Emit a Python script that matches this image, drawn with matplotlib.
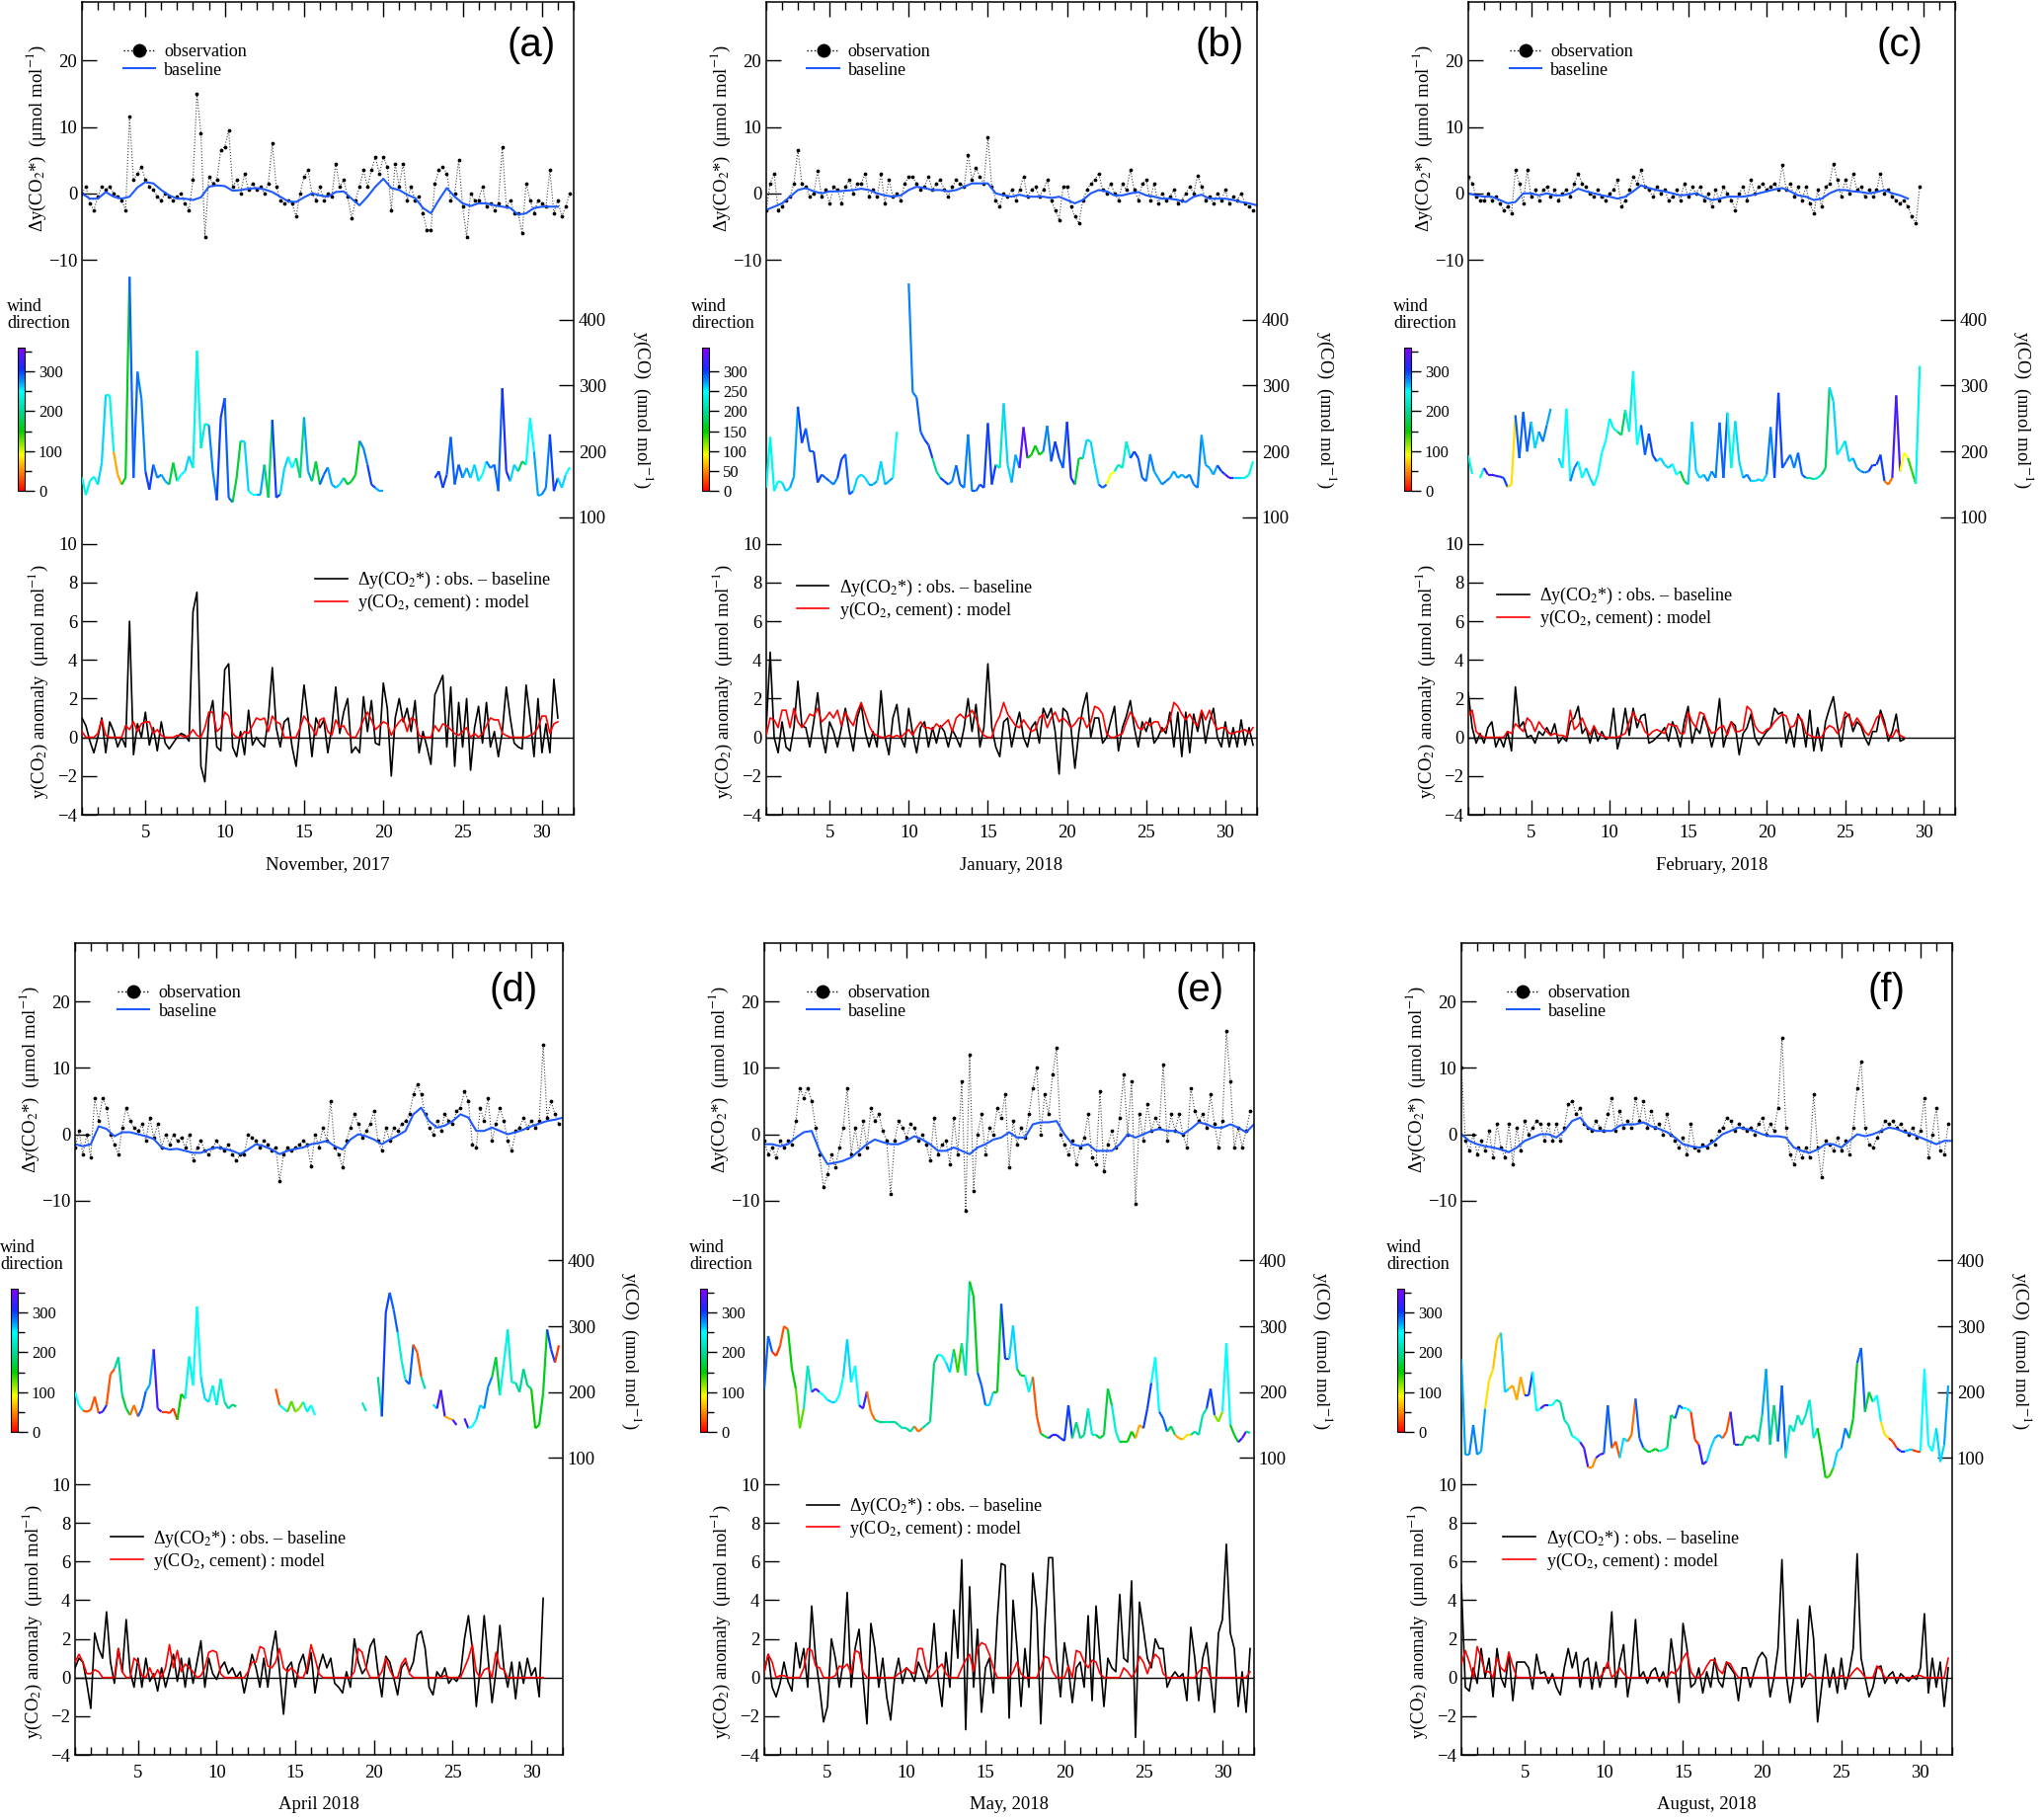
import numpy as np
import matplotlib
matplotlib.use('Agg')
import matplotlib.pyplot as plt
from matplotlib.collections import LineCollection
from matplotlib.colors import LinearSegmentedColormap, Normalize
from matplotlib.cm import ScalarMappable
from matplotlib.lines import Line2D
from matplotlib.ticker import MultipleLocator
from matplotlib.transforms import blended_transform_factory

plt.rcParams['font.family'] = ['Liberation Serif', 'DejaVu Serif']
plt.rcParams['mathtext.fontset'] = 'stix'
plt.rcParams['axes.linewidth'] = 1.1

nan = float('nan')

# ---------------- data (6-hourly unless noted; baseline and wind 12-hourly) ----------------
# (a) November 2017
obs_a = [0, 1, -1.5, -2.5, -0.5, 1, 0.5, 1, 0, -0.5, -1, -2.5, 11.5, 2, 3, 4,
         2, 1, 0.5, -0.5, -1, 0, -0.5, -1, -0.5, 0, -1.5, -2.5, 2, 15, 9, -6.5,
         2.5, 1.5, 2, 6.5, 7, 9.5, 1, 2, 0, 3, 0.5, 1.5, 0.5, 1, 0, 1.5,
         7.5, 1, -1, -1.5, -1, -1.5, -3.5, 0, 2.5, 3.5, 0, -1, 1, -1, 0, -0.5,
         4.5, 1, 2, -0.5, -3.8, -1, 1, 3.5, 1, 3.5, 5.5, 3, 5.5, 4, -2.5, 4.5,
         1, 4.5, -1, 1, -1, -0.5, -3, -5.5, -5.5, 1.5, 3.5, 4, 3, -1, 0, 5,
         -2, -6.5, 0, -1, -1, 1, -2, -1.5, -2.5, -1.5, 7, -2, -1, -3, -3, -6,
         1.5, -1, -3, -1, -1.5, -2, 3.5, -3, -1, -3.5, -2, 0]
base_a = [0, -0.8, -0.8, 0.2, -0.5, -0.8, -0.5, 0.9, 1.7, 1.5,
          0.5, -0.3, -0.8, -0.8, -1.0, -0.6, 1.0, 1.2, 1.1, 0.4,
          0.5, 0.7, 0.8, 0.6, 0.2, -0.5, -1.2, -1.3, -0.6, 0,
          -0.3, -0.5, 0.2, 0.3, -0.8, -1.8, -0.5, 1.0, 2.2, 0.8,
          0.5, -0.2, -0.7, -2.2, -3.0, -1.0, 0.8, -0.5, -1.5, -1.9,
          -1.5, -1.5, -1.8, -2.0, -2.2, -3.2, -3.0, -2.2, -2.0, -2.0, -2.0]
co_a = [161, 134, 155, 162, 150, 183, 286, 285, 200, 165, 150, 160, 465, 160, 321, 280,
        170, 142, 180, 160, 165, 155, 150, 183, 155, 165, 170, 193, 175, 353, 205, 242,
        240, 170, 126, 251, 281, 130, 123, 160, 216, 215, 140, 135, 135, 135, 180, 130,
        248, 130, 135, 173, 192, 175, 190, 160, 252, 170, 155, 185, 150, 165, 176, 150,
        145, 150, 160, 150, 155, 165, 216, 205, 180, 150, 145, 140, 140, nan, nan, nan,
        nan, nan, nan, nan, nan, nan, nan, nan, nan, 160, 170, 145, 165, 222, 150, 180,
        160, 175, 160, 180, 155, 165, 185, 175, 180, 140, 296, 170, 155, 180, 170, 185,
        180, 251, 200, 133, 135, 145, 226, 140, 160, 145, 165, 176]
wind_a = [240, 240, 260, 240, 60, 160, 290, 280, 300, 280,
          270, 170, 250, 260, 240, 230, 280, 300, 290, 170,
          260, 250, 270, 180, 300, 260, 250, 190, 270, 170,
          290, 270, 260, 170, 160, 280, 300, 270, 260, nan,
          nan, nan, nan, nan, 300, 300, 290, 290, 270, 260,
          250, 280, 290, 310, 260, 180, 250, 270, 280, 300, 260, 250]
anom_a = [1.0, 0.6, -0.2, -0.8, 0, 1.0, -0.8, 0.8, 0.3, -0.5, 0, -0.5, 6.0, -0.9, 0.7, 0,
          1.3, -0.4, 0.5, -0.7, 0.8, -0.3, -0.6, -0.3, 0, 0.2, 0.1, -0.2, 6.5, 7.5, -1.5, -2.3,
          1.0, 1.9, -0.5, -0.7, 3.5, 3.8, -0.5, -1.0, 0.3, -0.9, 1.4, -0.4, 0, -0.3, -0.5, 1.0,
          3.6, 0.5, -0.5, 0.8, 1.0, -0.5, -1.5, 0.5, 2.7, 1.0, -1.0, 1.0, 0.5, 0.9, -0.8, 0.5,
          2.6, 0.2, 1.3, 2.0, -0.8, -0.5, -0.8, 2.1, 0.3, 1.9, -0.3, -0.4, 2.8, 1.5, -2.0, 1.0,
          2.0, 0.8, 1.5, 0.3, 1.9, -0.8, 0.3, -0.5, -1.4, 2.2, 2.7, 3.2, -0.5, 2.6, -1.5, 1.8,
          -0.5, 2.0, -1.7, 0.5, 1.6, -0.3, 1.8, -0.5, 0.3, -1.0, 0.3, 2.6, 1.0, -0.3, -0.5, -0.6,
          2.7, 1.0, -1.0, 2.0, -0.8, 0.7, -0.8, 3.0, 1.0]
model_a = [0.3, 0, 0, 0, 0.2, 0.9, 0.1, 0, 0, 0, 0, 0.6, 0.4, 0.8, 0.3, 0.7,
           0.8, 0.8, 0.2, 0.4, 0.1, 0, 0, 0, 0.1, 0.1, 0, 0.1, 0.4, 0.1, 0, 0.5,
           1.3, 1.3, 0.3, 0.5, 1.3, 1.1, 0.2, 0, 0, 0.3, 0.2, 0.6, 1.0, 0.9, 1.0, 0.3,
           1.1, 0.8, 0.7, 0, 0, 0, 0, 0.5, 1.1, 0.8, 0.5, 0.1, 0.9, 1.0, 0.3, 0.1,
           0.9, 0.5, 0.6, 0.2, 0, 0, 0.4, 0.9, 1.3, 0.9, 0.4, 0.6, 0.8, 0.7, 0.1, 0.5,
           0.8, 1.0, 0.3, 1.0, 0.9, 0.1, 0, 0, 0, 0.6, 0.3, 0.7, 0.6, 0.4, 0.2, 0.1,
           0.3, 0.5, 0, 0.2, 0, 0.2, 0.6, 1.0, 0.9, 0.9, 0.2, 0.1, 0, 0, 0, 0,
           0, 0.1, 0.2, 0.5, 1.1, 1.1, 0.2, 0.7, 0.8]

# (b) January 2018
obs_b = [-2.5, 1.5, 3, -2.5, -2, -1, -0.5, 1.5, 6.5, 1.5, 1, -0.5, 0, 3.4, -0.5, 0.5,
         -1.5, 1, 0.5, -1.5, 1, 2, 0, 1.5, 1.5, 3, -0.5, 0.5, -0.5, 3, -1.5, 2,
         -0.5, 0, -1, 1.5, 2.5, 2.5, 1.5, 0.5, 1, 2.5, 0.5, 1.5, 2, 0.5, -0.5, 1,
         2, 1.5, 1, 5.8, 2, 3.8, 2.5, 1.5, 8.4, 1, -1, -2, 0, -0.5, 0.5, -1,
         0.5, 2.5, -0.5, 0.5, 1, -0.5, 0.5, 2, -1, -2.5, -4, 1, 1, -2, -3.5, -4.5,
         -1, 0.5, 1.5, 2, 3, 0.5, 0, 1.5, 0, -1, 1.5, 0.5, 3.5, 0.5, -1, 1.5,
         2, -1, 1.5, -1.5, 0, -1, -0.5, 0.5, -1.5, -1, 0, 1, 0, 2.7, 1, -1,
         -0.5, -1.5, 0, -1, 0.5, -1.5, -0.5, -1, 0, -1.5, -2, -2.5]
base_b = [-2.5, -2, -1.5, -0.5, 0.5, 0.8, 0.3, 0, 0.3, 0.3,
          0.4, 0.5, 0.7, 0.5, 0, -0.3, -0.5, -0.3, 0.5, 1.0,
          0.8, 0.5, 0.5, 0.3, 0.5, 1.0, 1.5, 1.5, 1.5, 0,
          -0.3, -0.5, -0.2, -0.5, -0.5, -0.5, -0.7, -0.5, -1.0, -1.5,
          -1.0, 0, 0.5, 0.3, -0.3, -0.3, 0, 0.2, -0.3, -0.5,
          -0.8, -0.8, -1.0, -1.3, -0.5, -0.2, -0.8, -0.8, -0.8, -1.0,
          -1.3, -1.5, -1.8]
co_b = [145, 222, 140, 155, 153, 140, 145, 162, 268, 213, 235, 200, 200, 153, 165, 160,
        155, 150, 160, 188, 196, 135, 140, 160, 165, 160, 150, 150, 155, 185, 150, 155,
        160, 230, nan, nan, 455, 290, 282, 230, 218, 210, 190, 170, 160, 155, 150, 155,
        179, 150, 145, 226, 140, 140, 150, 145, 243, 150, 180, 175, 273, 180, 153, 195,
        175, 237, 190, 195, 209, 195, 200, 239, 185, 215, 190, 175, 245, 160, 150, 190,
        190, 218, 215, 180, 150, 145, 150, 165, 170, 180, 175, 215, 190, 200, 190, 160,
        155, 196, 170, 160, 150, 155, 160, 170, 160, 165, 160, 165, 150, 145, 225, 180,
        175, 165, 179, 170, 165, 160, 160, 160, 160, 160, 165, 185]
wind_b = [240, 240, 260, 270, 300, 290, 300, 290, 280, 300,
          290, 260, 260, 270, 260, 270, 250, 270, 280, 290,
          300, 200, 300, 280, 290, 280, 290, 300, 300, 220,
          260, 270, 340, 150, 160, 280, 300, 290, 310, 170,
          260, 260, 290, 90, 220, 230, 300, 290, 280, 270,
          280, 270, 270, 280, 280, 270, 270, 300, 330, 260, 240, 240]
anom_b = [0.5, 4.4, 0, -0.8, 0.8, -0.5, -0.7, 0.5, 2.9, 0.6, 0.5, -0.5, 0.8, 2.3, 0.2, -0.8,
          0.8, 0.3, -0.5, 0.5, 1.5, 0.3, -0.7, 1.0, 1.7, 0.3, -0.5, 0.3, -0.5, 2.4, 0, -0.9,
          1.0, 1.7, 0, -0.5, 1.5, 0.2, -0.8, 0.5, 0.8, -0.5, 0.5, -0.3, 0.6, 0.3, -0.5, 0.4,
          0, -0.5, 0.5, 2.0, 0.3, 1.7, -0.5, 0.5, 3.8, 0.5, -0.5, -1.0, 0.8, 1.0, -0.5, 0.5,
          1.3, 0, -0.5, 0.5, 0.8, -0.3, 1.5, 1.0, 1.5, 0.3, -1.9, 1.5, 1.3, 0.5, -1.6, 0.3,
          1.5, 2.3, 0, 1.0, 1.0, -0.3, 0, 0.8, 1.6, -0.7, 0.5, 1.1, 1.9, 0.5, -0.5, 0.8,
          0.3, 1.0, -0.3, 0, 0.5, 0.2, 1.3, -0.5, 1.3, -1.0, 1.3, -0.8, 1.2, 0.3, 1.3, -0.3,
          0.8, 1.5, 0, -0.5, 0.8, -0.5, 0.5, -0.5, 0.9, -0.4, 0.5, -0.4]
model_b = [0.1, 1.0, 0.9, 0.5, 1.4, 1.4, 0.5, 1.5, 0.8, 0.5, 0.8, 1.2, 1.1, 1.5, 0.8, 1.0,
           1.3, 1.0, 1.4, 0.6, 1.3, 0.9, 0.6, 1.3, 1.8, 1.2, 0.6, 0.2, 0.1, 0, 0, 0.1,
           0, 0.1, 0, 0.2, 0.4, 0.1, 0.5, 0.8, 0.5, 0.5, 0.4, 0.7, 0.5, 0.7, 0.9, 0.3,
           1.0, 1.2, 1.0, 1.1, 1.4, 1.0, 0.4, 0.1, 0, 0, 0.7, 1.1, 1.8, 1.2, 0.9, 0.6,
           0.5, 0.9, 0.6, 0.3, 0.4, 1.0, 1.2, 0.5, 1.0, 1.3, 0.8, 1.0, 0.8, 0.5, 0.7, 1.0,
           1.0, 0.5, 0.8, 1.6, 1.5, 1.2, 0.2, 0, 0, 0.1, 0.2, 0.8, 1.3, 1.0, 0.5, 0.4,
           0.8, 0.6, 0.8, 0.8, 0.3, 0.5, 0.9, 1.8, 1.6, 1.2, 0.9, 1.2, 0.8, 0.6, 1.4, 0.9,
           1.4, 0.8, 0.4, 0.5, 0.5, 0.2, 0.2, 0.3, 0.3, 0.4, 0.2, 0.5]

# (c) February 2018
obs_c = [2.5, 1.5, -0.5, -1, -1, 0, -1, -0.5, -1.5, -2.5, -2, -3, 3.5, 1.5, -1.5, 3.5,
         -0.5, 0.5, -1, 0.5, 1, -0.5, 0.5, -1, 0, 0.5, -0.5, 1.5, 3, 1.5, 1, 0,
         -0.5, 0.5, -0.5, -1, 0, 0.5, 2, -2, -1, 0.5, 2.5, 1.5, 3.5, 1, 0.5, -0.5,
         1, 0, 0.5, -1, -0.5, 0.5, -1, 1.5, -0.5, 1, 0, 1, -1, 0, -2, 0.5,
         -1, 1, 0, -1, -2.5, 0, 1, -1, 2, 0, 1, 1.5, 0.5, 1, 1.5, 0.5,
         4.3, 0.5, 1.5, -0.5, 1, -1, 1, -1.5, -3, 0.5, -2, 1, 1.5, 4.5, 2, -0.5,
         2, 0, 3, 0.5, 1, -0.5, 0.5, -0.5, 0.5, 3, 0, 0.5, -0.5, -1, -1.5, -1,
         -2, -3.5, -4.5, 1]
base_c = [0, -0.3, -0.5, -0.5, -1.0, -1.5, -1.3, 0, 0, -0.3,
          0, -0.3, -0.3, 0, 0.7, 0.3, 0, -0.3, -0.5, -0.8,
          -0.5, 0.3, 1.2, 0.8, 0.5, 0.3, 0, -0.3, -0.2, 0,
          -0.5, -1.0, -0.8, -0.5, -0.5, -0.5, -0.3, 0, 0.3, 0.6,
          0.8, 0.3, -0.3, -0.5, -1.0, -0.8, 0, 0.5, 0.5, 0.3,
          0.2, 0, 0.2, 0.5, 0, -0.3, -0.8]
co_c = [194, 166, nan, 160, 175, 165, 165, 163, 162, 160, 146, 150, 255, 190, 260, 200,
        245, 205, 230, 215, 240, 265, nan, 190, 175, 265, 155, 175, 185, 160, 175, 160,
        148, 165, 198, 216, 250, 235, 230, 225, 263, 230, 322, 210, 240, 195, 227, 194,
        185, 190, 180, 175, 181, 165, 170, 155, 150, 245, 170, 160, 165, 155, 170, 160,
        244, 160, 259, 175, 246, 185, 160, 165, 155, 155, 158, 155, 165, 237, 160, 289,
        175, 185, 195, 175, 198, 165, 160, 160, 158, 160, 165, 175, 297, 276, 195, 205,
        216, 185, 190, 175, 170, 168, 170, 180, 180, 195, 155, 150, 160, 285, 170, 198,
        190, 170, 151, 330]
wind_c = [240, 240, 330, 320, 300, 80, 290, 290, 260, 280,
          270, 260, 250, 280, 250, 260, 250, 250, 240, 180,
          230, 250, 290, 300, 260, 260, 250, 170, 260, 260,
          270, 280, 290, 240, 260, 280, 260, 260, 280, 300,
          290, 280, 290, 200, 220, 180, 260, 240, 260, 270,
          280, 300, 300, 40, 330, 90, 140, 240]
anom_c = [2.3, 0.5, -0.3, 0.2, -0.3, 0.5, 0.8, -0.5, 0, -0.5, 0.3, -0.7, 2.6, 0.5, 0.8, 0,
          0.1, -0.3, 0.3, 0.1, 0.5, 0.1, 0.7, -0.3, 0, -0.2, 0.8, 1.0, 1.6, 0.2, 0.5, -0.3,
          0.5, -0.2, 0.3, -0.1, 0, 1.5, -0.6, 0.2, 1.5, 0.1, 1.5, 0.5, 1.1, 1.2, -0.3, -0.2,
          0, 0.2, 0.5, -0.2, 0.8, 0.3, -0.5, 0.8, 1.6, -0.3, 0.5, 0.2, 1.1, 0.5, -0.5, 0.3,
          2.0, -0.5, 0.3, 0.8, 0.6, -0.9, 0.2, 0.5, 1.2, 0, -0.4, 0, 0.3, 0.5, 1.5, 1.2,
          1.3, -0.3, 0.5, -0.5, 1.2, 0.8, -0.5, 1.4, -0.7, 0.5, -0.7, 0.8, 1.5, 2.1, 0.6, -0.5,
          1.0, 1.2, 0.3, 0.8, 0.6, 0, -0.4, 0.3, 0.3, 1.4, 0.8, -0.2, 0.3, 1.2, -0.2, -0.1]
model_c = [1.1, 1.4, 0.3, 0.1, 0, 0, 0, 0, 0, 0, 0.3, 0.2, 0.7, 0.5, 0.3, 1.0,
           0.8, 0.3, 0.8, 0.5, 0.3, 0.1, 0.2, 0.1, 0.1, 0, 1.4, 0.4, 0.6, 1.0, 0.5, 0.1,
           0.6, 0.2, 0.1, 0, 0, 0, 0, 0.1, 0.2, 0.8, 1.3, 0.9, 0.8, 0.3, 0.1, 0.3,
           0.4, 0.3, 0.2, 0.7, 0.6, 0.6, 0.2, 0.2, 1.3, 0.8, 0.5, 1.3, 1.2, 0.6, 0.2, 0.3,
           0.5, 0.6, 0.1, 0.8, 0.3, 0.3, 0.4, 1.6, 1.4, 0.6, 0.3, 0.2, 0.4, 0.5, 0.8, 1.0,
           1.2, 1.1, 0.5, 0.6, 1.1, 0.9, 0.2, 0.1, 0, 0, 0, 0.4, 0.6, 0.5, 0.2, 0.5,
           1.3, 1.1, 0.6, 1.0, 0.7, 0.3, 0.1, 0.5, 1.0, 1.2, 0.6, 0.1, 0, 0.4, 0.1, 0]

# (d) April 2018
obs_d = [-2, 0.5, -3, 0, -3.5, 5.5, 2, 5.5, 4, 0, -1.5, -3, 1, 4, 2, 1,
         0.5, 1.5, -1, 2.5, -0.5, 1.5, -2, 0, -1.5, 0, -1, -0.5, -2, 0, -4, -2,
         -1, -2.5, -3, -2, -1, -2, -2.5, -1.5, -3, -4, -3, -3, 0, -0.5, -1, -2,
         -1, -1.5, -2.5, -2, -7, -3, -2, -2.5, -2, -1.5, -1, -1.5, -4.8, 0, -2, 1,
         -1, 5, -2, -3, -5, -1, 1, 3, 1.5, -0.5, 0.5, 1.5, 3.5, -1, -2.5, 1,
         -1, 1, 0.5, 1.5, 2, 3, 6, 7.5, 6, 3, 1, 0, 2, 0.5, 3, 2,
         1.5, 3.5, 4, 6.5, 5, -1.5, -2, 4, 2, 5.5, -1, 1.5, 4, 2, -1, -2.5,
         0.5, 1, 2.5, 1, 2, 1, 2, 13.5, 2.5, 5, 3, 1.5]
base_d = [-1.5, -1.8, -1.5, 1.2, 0.8, -0.3, 0.3, 0.3, 0, -0.3,
          -0.7, -2.0, -2.3, -2.2, -2.5, -2.8, -2.8, -2.3, -2.0, -2.2,
          -2.5, -3.0, -2.3, -1.5, -1.8, -2.3, -3.0, -2.5, -2.2, -2.0,
          -1.5, -1.3, -1.0, -1.8, -2.3, -0.8, 0, -0.3, -0.8, -1.5,
          -0.8, -0.2, 0.5, 3.0, 4.0, 2.0, 1.0, 1.3, 2.0, 3.0,
          2.5, 0.5, 0.5, 1.0, 0.5, 0, 0.3, 0.7, 1.2, 1.6,
          2.0, 2.2, 2.5]
co_d = [200, 180, 172, 170, 173, 193, 168, 170, 180, 227, 235, 253, 195, 175, 165, 180,
        163, 175, 201, 211, 265, 175, 170, 170, 168, 175, 158, 197, 190, 254, 210, 330,
        223, 190, 185, 210, 180, 220, 185, 175, 181, 178, nan, nan, nan, nan, nan, nan,
        nan, nan, nan, 205, 180, 175, 170, 186, 170, 175, 185, 170, 180, 165, nan, nan,
        nan, nan, nan, nan, nan, nan, nan, nan, nan, 184, 171, nan, nan, 223, 163, 321,
        351, 325, 291, 248, 218, 212, 272, 260, 223, 205, nan, 181, 175, 203, 163, 160,
        158, 150, nan, 160, 145, 148, 158, 180, 175, 208, 223, 253, 195, 244, 295, 215,
        214, 200, 235, 210, 205, 145, 150, 199, 295, 265, 245, 271]
wind_d = [250, 30, 30, 320, 30, 200, 170, 40, 290, 270,
          330, 20, 20, 150, 240, 250, 260, 240, 230, 200,
          180, nan, nan, nan, nan, 30, 240, 130, 120, 240,
          250, nan, nan, nan, nan, nan, 220, 180, 200, 300,
          290, 230, 290, 30, 210, 230, 330, 60, 330, 330,
          250, 260, 280, 170, 240, 230, 200, 190, 150, 160, 300, 20]
anom_d = [0.5, 1.0, 0.8, -0.3, -1.6, 2.3, 1.5, 1.0, 3.4, 0.8, -0.3, 1.5, 0.3, 3.0, 0.3, -0.5,
          1.0, -0.5, 1.0, -0.2, 0.2, -0.7, 0.5, -0.5, 0.3, 1.2, -0.2, 1.0, -0.5, 1.0, -0.3, 0.8,
          1.9, -0.5, 1.0, 0.2, -0.1, 0.5, 0.8, 0.2, 0.5, 0, 0.3, -0.8, 0.2, 1.2, 0.5, -0.5,
          1.0, -0.5, 1.3, 2.4, 0.3, -1.9, 0.5, 0.8, -0.5, 0.7, 1.2, 0.2, 1.3, -0.8, 0.5, 1.2,
          0.5, 1.0, -0.3, -0.5, -0.8, 0.3, -0.5, 2.0, 0.8, 0.2, 0.5, 1.6, 2.0, 0.3, -1.0, 1.1,
          0.8, 0, -0.9, 0.5, 0.8, 0.3, 0.8, 2.2, 2.4, 1.5, -0.5, -0.9, 0.3, 0, 0.5, -0.3,
          0, -0.2, 0.2, 2.0, 3.2, 1.5, -1.5, 0.5, 3.2, 1.0, -1.3, 0.3, 2.7, 0.5, -0.5, 0.8,
          -1.1, 0.8, -0.3, 1.0, 0.1, 0.5, -1.0, 4.1]
model_d = [0.8, 1.2, 0.8, 0.2, 0.2, 0.4, 0.3, 0, 0, 0, 0, 1.5, 0.3, 0, 0, 1.0,
           0.8, 0.1, 0, 0.5, 0, 0.4, 0, 0.5, 1.7, 0.5, 1.4, 0.3, 0.7, 0.5, 0.3, 0,
           0.1, 0.5, 1.3, 1.4, 1.3, 0.2, 0, 0, 0, 0, 0, 0, 0.3, 0.8, 0.8, 1.6,
           1.5, 0.6, 0.5, 0.8, 1.5, 0.5, 0.3, 0.5, 0.3, 0, 0, 0.5, 1.7, 1.0, 0.2, 0,
           0, 0, 0, 0, 0, 0, 0, 0.3, 1.5, 1.3, 0.5, 0, 0, 0, 0.3, 1.0,
           0.4, 0, 0, 0.7, 1.0, 0.2, 0, 0, 0, 0, 0, 0, 0, 0, 0.1, 0,
           0, 0, 0, 0.5, 1.0, 1.7, 0.3, 0, 0.4, 0.5, 0, 1.3, 0.5, 0.4, 0, 0,
           0, 0, 0, 0, 0, 0, 0, 0]

# (e) May 2018
obs_e = [-1, -3, -2, -3.5, -1, -2, -1, -1.5, 2, 7, 5.5, 7, 5, 1, -3, -8,
         -6, -3, -5, -2, 1, 7, -3, 1, -3, 2, -2, 4, 2, 3, 0.5, -1,
         -9, -1, 2, 1, -0.5, 1.5, 1, -1, 0, -1.5, -4, 2.5, -3, -1.5, -1, -4.5,
         2.5, -3, 8, -11.5, 12, -8.5, 0, 3, -3, 1, 0, 4, 2.5, 6, -5, 2,
         -1.5, 1, -0.5, 3, 7, 10, 0, 6, 3, 9, 13, 0, -1.5, -3, -1, -4.5,
         -2, -0.5, 3, -3.5, -4.5, 6.5, -5.5, -1.5, 0.5, -2, 2.5, 9, 0, 8, -10.5, 3,
         -1, 4.5, 0.5, 2.5, 1, 10.5, -1, 3, 0.5, 3, 0, -2, 7, 3.5, 2, 3,
         1, 6, 1.5, -2, 2, 15.5, 8, -2, 1, -2, 0.5, 3.5]
base_e = [-1.5, -1.5, -1.8, -1.5, -0.5, 0.3, 0.5, -2.5, -4.5, -4.3,
          -4.0, -3.5, -2.5, -1.5, -0.8, -1.2, -1.5, -1.5, -1.0, -0.3,
          -0.8, -1.5, -2.5, -2.5, -2.0, -2.5, -3.0, -2.0, -1.5, -0.8,
          -0.5, 0.3, -0.5, -0.5, 1.5, 1.8, 1.8, 2.0, 0, -1.5,
          -1.8, -1.5, -2.5, -2.5, -2.5, -1.5, 0, -0.5, 0, 0.5,
          0.8, 0.5, 0.5, 0, 0.8, 1.8, 1.5, 1.0, 1.0, 1.5,
          1.0, 0.3, 1.5]
co_e = [205, 285, 261, 255, 270, 300, 295, 235, 205, 145, 175, 240, 200, 205, 200, 195,
        188, 185, 185, 195, 223, 280, 215, 240, 180, 175, 201, 170, 158, 155, 155, 155,
        155, 155, 150, 145, 145, 140, 148, 140, 145, 150, 155, 244, 257, 255, 245, 230,
        265, 230, 274, 225, 368, 345, 230, 210, 180, 180, 200, 200, 334, 250, 250, 301,
        235, 225, 225, 200, 223, 163, 137, 133, 130, 135, 135, 130, 126, 180, 130, 154,
        130, 135, 175, 135, 135, 130, 135, 205, 180, 140, 124, 125, 125, 140, 130, 150,
        145, 175, 214, 253, 170, 160, 140, 148, 135, 130, 128, 135, 135, 140, 135, 165,
        175, 205, 165, 155, 170, 274, 150, 135, 124, 130, 140, 138]
wind_e = [290, 20, 30, 150, 130, 220, 330, 250, 260, 250,
          260, 250, 320, 40, 190, 210, 200, 210, 200, 40,
          200, 190, 250, 260, 140, 210, 160, 290, 260, 160,
          300, 260, 170, 240, 30, 170, 320, 310, 300, 190,
          200, 230, 170, 170, 230, 160, 150, 60, 300, 250,
          290, 180, 60, 80, 200, 210, 300, 120, 250, 160, 330, 190]
anom_e = [0.3, 1.2, -0.5, -1.0, -0.3, 0.8, -0.2, -0.7, 1.8, 0.5, 1.5, -0.5, 3.7, 1.0, -0.5, -2.3,
          -1.5, 2.0, 1.0, -0.5, 0.8, 4.4, -0.5, 1.5, 2.5, 0, -2.4, 2.8, 1.5, -0.5, 1.0, -1.0,
          -2.2, 0, 1.0, -0.3, 0.5, 0.3, -0.2, 0.8, 0.3, -0.3, 0.5, 2.8, 0, -1.5, 1.3, -0.5,
          3.5, 1.0, 6.1, -2.7, 4.7, -0.5, 2.5, -1.8, 0.5, 1.0, -0.8, 3.0, 5.9, 5.8, -2.1, 4.0,
          1.5, -1.5, 1.5, -0.5, 5.4, 3.5, -2.4, 2.5, 6.2, 6.2, 1.0, -1.0, 1.8, 0.5, -1.3, 0.5,
          0.8, -0.5, 3.2, -1.2, 3.7, 1.0, -1.5, 1.0, 0.5, 0.3, 4.3, 1.0, 0.8, 5.0, -3.1, 3.9,
          2.5, 1.0, 0.5, 2.0, 1.5, 1.5, -0.5, 0, 0.3, 0, 0.2, -1.2, 2.6, 1.0, -1.2, 1.0,
          1.8, 0, -1.8, 2.3, 3.0, 6.9, 2.3, 1.5, -1.5, 0.3, -1.8, 1.5]
model_e = [0.3, 1.2, 0.8, 0, 0.1, 0.1, 0, 0, 0, 0, 0.5, 1.5, 1.4, 0.6, 0.5, 0,
           0, 0, 0.1, 0.6, 0.5, 0.7, 0.2, 1.4, 1.3, 0.3, 0, 0, 0, 0, 0, 0,
           0, 0, 0.2, 0.3, 0.5, 0.3, 0.2, 1.5, 1.5, 0.5, 0, 0.2, 0.5, 0.7, 0.2, 0,
           0, 0, 0.5, 0.9, 1.2, 0.3, 1.5, 1.8, 1.7, 1.2, 0.5, 0, 0, 0, 0, 0.3,
           0.8, 0.2, 0, 0, 0, 0, 0.5, 1.1, 1.0, 0.3, 0, 0, 0, 0.6, 0, 1.4,
           1.3, 0.8, 0.5, 0.9, 0.8, 0.2, 0, 0, 0, 0, 0, 0.5, 0.3, 0, 0.3, 1.1,
           0.8, 0.2, 0.8, 1.2, 1.0, 0.2, 0, 0, 0, 0, 0, 0, 0, 0, 0.3, 0.5,
           0.5, 0, 0, 0, 0, 0, 0, 0, 0, 0, 0, 0.3]

# (f) August 2018
obs_f = [10, -1, -2.5, 0, -3, -1, -2.5, 0.5, -3.5, 1.5, -2, -3.5, 1.5, -4.5, 1, -2.5,
         2, 0, 1, 2, 1.5, -1, 1.5, -1, 1.5, -1, 1, 4.5, 5, 3, 4, 1.5,
         1, 0.5, 2, 1, 0.5, 3, 5.5, 0.5, 3.5, 1, 2, 1, 5.5, 2, 5, 1,
         3.5, 1, 1.5, 0, 3, 0, -1, -2, -0.5, -3, 1.5, -2, -2.5, -1.5, -2, -1,
         -1.5, 0.5, 1, 2.5, 2, 0.5, 1.5, 1, 0.5, 1, 0, 1.5, 2.5, 0, 1.5, 0.5,
         4, 14.5, 1, -3, -4.5, -2, -3.5, -2, -3.5, 6, -2, -6.5, -1, -1.5, -2.5, -0.5,
         -2.5, -1, -3, 1, 7, 11, 1, -1.5, -2, -0.5, 0.5, 2, 1.5, 2, 1, 1.5,
         0.5, 0, 1, -0.5, 0.5, 5.5, -3.5, 0, 4, -2.5, -3, 1.5]
base_f = [0, -1.0, -1.5, -1.8, -2.0, -2.3, -2.7, -2.0, -1.0, -0.5,
          0, 0, -0.5, 0.5, 2.0, 2.5, 1.0, 0.5, 0.5, 0.5,
          1.3, 1.5, 1.5, 1.8, 1.2, 0.8, 0.3, -0.5, -1.5, -1.8,
          -2.0, -1.8, -1.0, 0, 0.5, 1.0, 0.8, 0.5, 0, -0.3,
          -0.3, -0.5, -2.0, -2.5, -2.8, -2.3, -1.5, -1.5, -2.0, -1.0,
          0, -0.3, 0, 0.5, 1.0, 0.8, 0.3, 0, -0.5, -1.0,
          -1.5, -1.0, -1.0]
co_f = [250, 105, 105, 150, 105, 110, 175, 218, 235, 280, 290, 200, 205, 210, 188, 223,
        195, 195, 231, 171, 175, 180, 180, 180, 188, 185, 158, 150, 133, 130, 124, 115,
        86, 85, 100, 105, 107, 180, 115, 125, 100, 130, 125, 135, 190, 130, 115, 110,
        110, 114, 110, 112, 115, 165, 160, 180, 175, 175, 170, 128, 120, 90, 95, 115,
        130, 135, 130, 140, 170, 120, 120, 120, 133, 130, 135, 125, 165, 235, 120, 180,
        125, 210, 100, 150, 140, 165, 150, 165, 188, 130, 145, 110, 70, 72, 85, 110,
        115, 145, 130, 160, 244, 267, 170, 200, 185, 195, 155, 135, 130, 125, 115, 110,
        110, 112, 112, 110, 110, 235, 120, 110, 145, 94, 120, 210]
wind_f = [270, 280, 270, 80, 70, 260, 60, 60, 300, 250,
          320, 250, 200, 220, 250, 330, 50, 320, 290, 30,
          260, 40, 290, 170, 160, 230, 180, 290, 240, 20,
          320, 260, 270, 30, 320, 180, 190, 200, 270, 190,
          290, 220, 220, 220, 230, 150, 140, 260, 280, 160,
          290, 170, 250, 80, 20, 320, 260, 20, 250, 250, 260, 270]
anom_f = [4.8, -0.5, -0.7, 0.5, -0.3, 1.5, 0, 1.0, -1.0, 1.5, 0, -0.5, 1.3, -1.2, 0.8, 0.8,
          0.8, 0.5, -0.6, 1.2, 0.2, 0.3, -0.3, 0.2, -0.5, -0.9, 0.5, 1.5, 0.5, 1.3, -0.5, 0.8,
          1.0, -0.6, 0.8, -0.5, 0.5, 0.5, 3.4, -0.5, 0.8, 1.7, -1.0, 0.3, 3.0, 0, 0.3, -0.3,
          0.3, 0.5, -0.2, 0.3, -0.5, 2.0, 0.5, -1.3, 2.8, 1.5, -0.5, -0.3, 0.5, -0.8, 0.3, -0.5,
          1.0, -0.2, -0.5, 0.8, 0.5, 0.2, -1.2, 0.5, 0.5, -0.5, 0.3, 1.0, 1.3, 1.0, -1.0, 0,
          1.5, 6.1, 0.3, -1.3, 0, 3.0, -0.5, 0, 3.7, 2.0, -2.3, -0.5, 1.2, -0.5, 0.5, -0.8,
          1.0, -0.6, 0.3, 1.5, 6.4, 1.0, 0, -1.0, -0.5, 0.5, 0.6, -0.3, 0.1, 0.3, -0.3, 0.2,
          0, -0.2, 0.1, -0.1, 0.5, 3.3, -0.8, 1.0, -0.5, 0.8, -1.5, 0.5]
model_f = [0.7, 1.4, 0.8, 0, 1.6, 1.0, 0.3, 0.3, 0, 1.0, 0.5, 0.3, 1.3, 0.6, 0, 0,
           0, 0, 0, 0, 0, 0, 0, 0, 0, 0, 0, 0, 0, 0, 0, 0,
           0, 0, 0, 0, 0.3, 0.8, 0, 0.2, 0.5, 0.2, 0, 0, 0, 0, 0, 0,
           0, 0, 0, 0, 0, 0.3, 0.2, 0.5, 1.0, 1.3, 0.3, 0, 0, 0.2, 0.6, 0.9,
           0.9, 0.4, 0.2, 0.8, 0.7, 0.3, 0, 0, 0, 0, 0, 0, 0, 0, 0, 0,
           0, 0, 0, 0, 0, 0, 0, 0, 0.2, 0, 0, 0, 0, 0, 0, 0,
           0.1, 0, 0, 0.3, 0.5, 0.3, 0, 0, 0, 0.6, 0.4, 0, 0, 0, 0, 0,
           0, 0, 0, 0.1, 0.1, 0, 0, 0, 0, 0, 0, 1.0]

months = ['November, 2017', 'January, 2018', 'February, 2018',
          'April 2018', 'May, 2018', 'August, 2018']
letters = ['(a)', '(b)', '(c)', '(d)', '(e)', '(f)']

# ---------------- layout (pixels of the 2067 x 1843 canvas) ----------------
W, H = 2067, 1843
boxes = [(83, 581, 2, 825), (776, 1273, 2, 825), (1487, 1980, 2, 825),
         (76, 570, 955, 1777), (774, 1270, 955, 1777), (1480, 1977, 955, 1777)]
leg_top_x = [0.084, 0.083, 0.085, 0.087, 0.087, 0.093]
leg_bot = [(0.474, 0.301), (0.062, 0.292), (0.059, 0.282),
           (0.073, 0.279), (0.087, 0.319), (0.085, 0.279)]
letter_xy = [(0.914, 0.947), (0.923, 0.947), (0.886, 0.947),
             (0.90, 0.942), (0.89, 0.942), (0.867, 0.942)]
cb_steps = [100, 50, 100, 100, 100, 100]

series = [(obs_a, base_a, co_a, wind_a, anom_a, model_a),
          (obs_b, base_b, co_b, wind_b, anom_b, model_b),
          (obs_c, base_c, co_c, wind_c, anom_c, model_c),
          (obs_d, base_d, co_d, wind_d, anom_d, model_d),
          (obs_e, base_e, co_e, wind_e, anom_e, model_e),
          (obs_f, base_f, co_f, wind_f, anom_f, model_f)]

wind_cmap = LinearSegmentedColormap.from_list('wind', [
    (0.0, '#ff0000'), (50/360, '#ff8c00'), (90/360, '#ffff00'), (150/360, '#00cc00'),
    (200/360, '#00d89a'), (250/360, '#00ffff'), (275/360, '#0096ff'),
    (305/360, '#1030ff'), (1.0, '#8a00ff')])
wind_norm = Normalize(0, 360)

TS = 13.5   # tick label size
fig = plt.figure(figsize=(W / 100, H / 100), dpi=100)

for i in range(6):
    l, r, t, b = boxes[i]
    obs, base, co, wind, anom, model = series[i]
    rect = [l / W, 1 - b / H, (r - l) / W, (b - t) / H]

    ax = fig.add_axes(rect)
    ax.set_xlim(1, 32)
    ax.set_ylim(-93.5, 28.8)
    axc = ax.twinx()
    axc.set_ylim(-351, 882)
    axn = ax.twinx()
    axn.set_ylim(-4, 38.0)
    for a in (axc, axn):
        for s in a.spines.values():
            s.set_visible(False)

    # x ticks on top and bottom of frame
    ax.xaxis.set_major_locator(MultipleLocator(5))
    ax.xaxis.set_minor_locator(MultipleLocator(1))
    ax.tick_params(axis='x', which='major', direction='in', length=11, width=1,
                   top=True, bottom=True, labelsize=TS, pad=7)
    ax.tick_params(axis='x', which='minor', direction='in', length=6, width=1,
                   top=True, bottom=True)
    ax.set_yticks([-10, 0, 10, 20])
    ax.tick_params(axis='y', direction='in', length=11, width=1, labelsize=TS,
                   left=True, right=False)
    axc.set_yticks([100, 200, 300, 400])
    axc.tick_params(axis='y', direction='in', length=11, width=1, labelsize=TS,
                    right=True, left=False, labelright=True, labelleft=False)
    axn.yaxis.tick_left()
    axn.set_yticks(list(range(-4, 11, 2)))
    axn.tick_params(axis='y', direction='in', length=11, width=1, labelsize=TS,
                    left=True, right=False, labelleft=True, labelright=False)

    # observation and baseline
    tq = 1 + np.arange(len(obs)) / 4
    ax.plot(tq, obs, ls=':', lw=0.8, color='#444444', marker='o', ms=1.7,
            mfc='black', mec='black')
    tb = 1 + np.arange(len(base)) / 2
    ax.plot(tb, base, color='#1e5aff', lw=1.5)

    # CO coloured by wind direction
    cv = np.array(co, float)
    tc = 1 + np.arange(len(cv)) / 4
    w = np.full(len(cv), nan)
    rep = np.repeat(np.array(wind, float), 2)[:len(cv)]
    w[:len(rep)] = rep
    segs, cols = [], []
    for k in range(len(cv) - 1):
        if np.isfinite(cv[k]) and np.isfinite(cv[k + 1]) and np.isfinite(w[k]):
            segs.append([(tc[k], cv[k]), (tc[k + 1], cv[k + 1])])
            cols.append(w[k])
    lc = LineCollection(segs, cmap=wind_cmap, norm=wind_norm, linewidths=1.6)
    lc.set_array(np.array(cols))
    axc.add_collection(lc)

    # anomaly and model
    axn.axhline(0, color='black', lw=1.0)
    ta = 1 + np.arange(len(anom)) / 4
    axn.plot(ta, anom, color='black', lw=1.2)
    tm = 1 + np.arange(len(model)) / 4
    axn.plot(tm, model, color='red', lw=1.2)

    # legends
    h1 = [Line2D([], [], ls=':', color='black', lw=1.0, marker='o', ms=9),
          Line2D([], [], color='#1e5aff', lw=1.5)]
    axc.legend(h1, ['observation', 'baseline'], loc='upper left',
               bbox_to_anchor=(leg_top_x[i], 0.949), bbox_transform=ax.transAxes,
               frameon=False, fontsize=13, handlelength=1.8, handletextpad=0.5,
               labelspacing=0.1, borderpad=0, borderaxespad=0)
    h2 = [Line2D([], [], color='black', lw=1.2), Line2D([], [], color='red', lw=1.2)]
    axn.legend(h2, ['Δy(CO$_2$*) : obs. – baseline', 'y(CO$_2$, cement) : model'],
               loc='upper left', bbox_to_anchor=leg_bot[i], bbox_transform=ax.transAxes,
               frameon=False, fontsize=13, handlelength=1.8, handletextpad=0.6,
               labelspacing=0.1, borderpad=0, borderaxespad=0)

    # axis titles
    tr_top = blended_transform_factory(ax.transAxes, ax.transData)
    ax.text(-0.093, 8.3, 'Δy(CO$_2$*)  (μmol mol$^{-1}$)', transform=tr_top,
            rotation=90, ha='center', va='center', fontsize=13.5)
    tr_an = blended_transform_factory(ax.transAxes, axn.transData)
    ax.text(-0.088, 2.9, 'y(CO$_2$) anomaly  (μmol mol$^{-1}$)', transform=tr_an,
            rotation=90, ha='center', va='center', fontsize=13.5)
    tr_co = blended_transform_factory(ax.transAxes, axc.transData)
    ax.text(1.14, 263, 'y(CO)  (nmol mol$^{-1}$)', transform=tr_co,
            rotation=-90, ha='center', va='center', fontsize=13.5)
    ax.text(0.5, -0.062, months[i], transform=ax.transAxes, ha='center', va='center',
            fontsize=13.5)
    ax.text(letter_xy[i][0], letter_xy[i][1], letters[i], transform=ax.transAxes,
            ha='center', va='center', fontsize=29, family='Liberation Sans')

    # wind direction colour bar
    fig.text((l - 76) / W, 1 - (t + 300) / H, 'wind\ndirection', ha='left', va='top',
             fontsize=13, linespacing=1.0)
    cax = fig.add_axes([(l - 65) / W, 1 - (t + 495) / H, 7 / W, 145 / H])
    cb = fig.colorbar(ScalarMappable(norm=wind_norm, cmap=wind_cmap), cax=cax)
    cb.outline.set_linewidth(0.8)
    if cb_steps[i] == 50:
        cb.set_ticks(list(range(0, 301, 50)))
    else:
        cb.set_ticks([0, 100, 200, 300])
        cax.yaxis.set_minor_locator(MultipleLocator(50))
    cax.tick_params(which='major', direction='out', length=7, width=1, labelsize=12, pad=3)
    cax.tick_params(which='minor', direction='out', length=5, width=1)

fig.savefig('out.png', dpi=100)
